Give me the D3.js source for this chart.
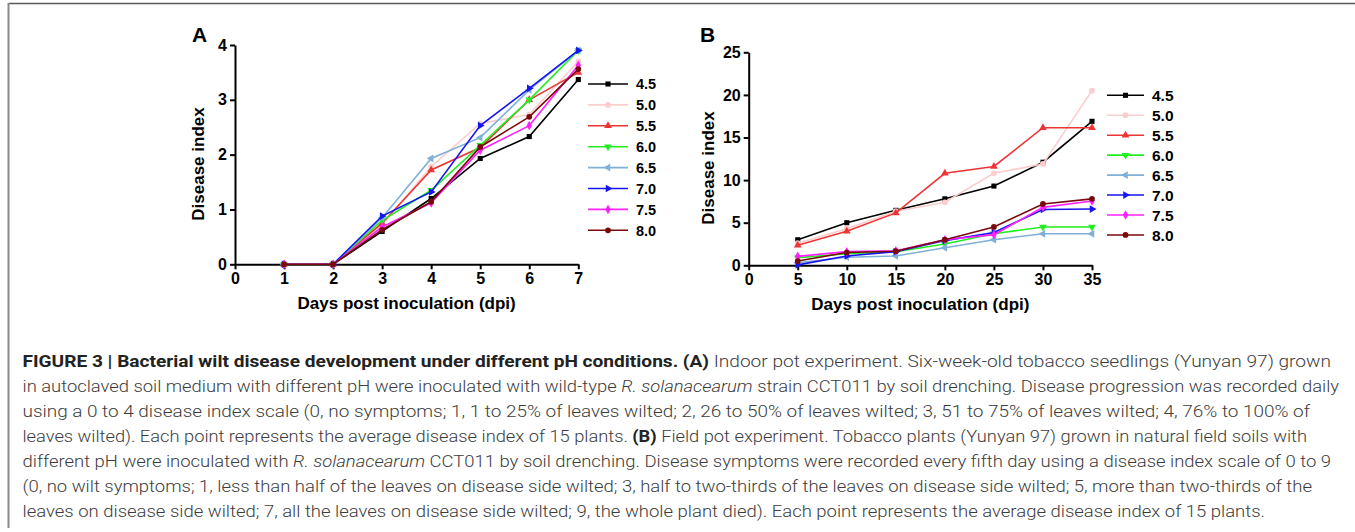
<!DOCTYPE html>
<html>
<head>
<meta charset="utf-8">
<script src="https://cdn.jsdelivr.net/npm/d3@7"></script>
<style>
  body { margin: 0; background: #fff; }
  svg text { font-family: "Liberation Sans", Arial, sans-serif; }
  .cap { font-family: Roboto, "Liberation Sans", sans-serif; font-weight: 300; fill: #3c3c3c; font-size: 16px; }
</style>
</head>
<body>
<div id="fig"></div>
<script>
// data
var phLabels = ["4.5", "5.0", "5.5", "6.0", "6.5", "7.0", "7.5", "8.0"];
var phColors = ["#000000", "#fbcdcd", "#ee3535", "#22ee22", "#7fb0d8", "#1515f0", "#ff22ff", "#7a0a0a"];
var phSymbols = [d3.symbolSquare, d3.symbolCircle, d3.symbolTriangle, "down", "left", "right", d3.symbolDiamond, d3.symbolCircle];

// panel A: indoor pot, days 1..7
var daysA = [1, 2, 3, 4, 5, 6, 7];
var indoor45 = [0, 0, 0.60, 1.20, 1.93, 2.33, 3.37];
var indoor50 = [0, 0, 0.72, 1.78, 2.57, 2.73, 3.70];
var indoor55 = [0, 0, 0.75, 1.72, 2.13, 3.00, 3.50];
var indoor60 = [0, 0, 0.80, 1.35, 2.17, 3.00, 3.90];
var indoor65 = [0, 0, 0.85, 1.93, 2.31, 3.18, 3.90];
var indoor70 = [0, 0, 0.88, 1.32, 2.53, 3.21, 3.90];
var indoor75 = [0, 0, 0.68, 1.12, 2.08, 2.53, 3.63];
var indoor80 = [0, 0, 0.63, 1.14, 2.14, 2.69, 3.56];
var indoorSeries = [indoor45, indoor50, indoor55, indoor60, indoor65, indoor70, indoor75, indoor80];

// panel B: field pot, every fifth day
var daysB = [5, 10, 15, 20, 25, 30, 35];
var field45 = [3.00, 5.00, 6.45, 7.80, 9.30, 12.10, 16.90];
var field50 = [2.60, 4.30, 6.35, 7.40, 10.80, 11.90, 20.50];
var field55 = [2.35, 4.00, 6.15, 10.80, 11.60, 16.15, 16.15];
var field60 = [0.90, 1.35, 1.60, 2.50, 3.70, 4.50, 4.50];
var field65 = [0.30, 0.95, 1.10, 2.05, 3.00, 3.70, 3.70];
var field70 = [0.05, 1.10, 1.60, 2.90, 3.85, 6.55, 6.60];
var field75 = [1.05, 1.60, 1.70, 3.00, 3.60, 6.80, 7.55];
var field80 = [0.50, 1.50, 1.65, 3.00, 4.50, 7.20, 7.80];
var fieldSeries = [field45, field50, field55, field60, field65, field70, field75, field80];

var ticksA_x = [0, 1, 2, 3, 4, 5, 6, 7];
var ticksA_y = [0, 1, 2, 3, 4];
var ticksB_x = [0, 5, 10, 15, 20, 25, 30, 35];
var ticksB_y = [0, 5, 10, 15, 20, 25];

var W = 1355, H = 532;
var svg = d3.select("#fig").append("svg").attr("width", W).attr("height", H);

// frame (top and left rules)
svg.append("line").attr("x1", 8.5).attr("x2", W).attr("y1", 3.5).attr("y2", 3.5)
   .attr("stroke", "#5a5a5a").attr("stroke-width", 1.5);
svg.append("line").attr("x1", 8.5).attr("x2", 8.5).attr("y1", 3).attr("y2", 528)
   .attr("stroke", "#8a8a8a").attr("stroke-width", 2);

// marker path for a series index
function marker_path(i, size) {
    var s = phSymbols[i];
    if (typeof s !== "string") return d3.symbol().type(s).size(size)();
    return d3.symbol().type(d3.symbolTriangle).size(size)();
}
function marker_rot(i) {
    var s = phSymbols[i];
    if (s === "down") return 180;
    if (s === "left") return -90;
    if (s === "right") return 90;
    return 0;
}

function draw_panel(opt) {
    var x = d3.scaleLinear().domain(opt.xDomain).range(opt.xRange);
    var y = d3.scaleLinear().domain(opt.yDomain).range(opt.yRange);
    var g = svg.append("g");
    var fmt = d3.format("d");

    var xAxis = g.append("g").attr("transform", "translate(0," + opt.yRange[0] + ")")
        .call(d3.axisBottom(x).tickValues(opt.xTicks).tickFormat(fmt).tickSize(5).tickSizeOuter(0).tickPadding(3));
    var yAxis = g.append("g").attr("transform", "translate(" + opt.xRange[0] + ",0)")
        .call(d3.axisLeft(y).tickValues(opt.yTicks).tickFormat(fmt).tickSize(5).tickSizeOuter(0).tickPadding(3));
    [xAxis, yAxis].forEach(function (a) {
        a.select(".domain").attr("stroke", "#000").attr("stroke-width", 2);
        a.selectAll(".tick line").attr("stroke", "#000").attr("stroke-width", 2);
        a.selectAll(".tick text").attr("fill", "#000")
            .style("font-size", "16px").style("font-weight", "bold");
    });

    // axis titles
    g.append("text").attr("x", (opt.xRange[0] + opt.xRange[1]) / 2).attr("y", opt.yRange[0] + 45)
        .attr("text-anchor", "middle").style("font-size", "17px").style("font-weight", "bold")
        .text("Days post inoculation (dpi)");
    g.append("text").attr("transform", "translate(" + opt.yTitleX + "," + opt.yTitleY + ") rotate(-90)")
        .attr("text-anchor", "middle").attr("dy", "0.35em")
        .style("font-size", "17px").style("font-weight", "bold")
        .text("Disease index");
    g.append("text").attr("x", opt.letterX).attr("y", 42)
        .style("font-size", "21px").style("font-weight", "bold").text(opt.letter);

    var line = d3.line().x(function (d) { return x(d[0]); }).y(function (d) { return y(d[1]); });
    opt.series.forEach(function (vals, i) {
        var pts = opt.days.map(function (d, k) { return [d, vals[k]]; });
        g.append("path").datum(pts).attr("d", line).attr("fill", "none")
            .attr("stroke", phColors[i]).attr("stroke-width", 1.6);
        g.selectAll(null).data(pts).enter().append("path")
            .attr("d", marker_path(i, 26))
            .attr("transform", function (d) { return "translate(" + x(d[0]) + "," + y(d[1]) + ") rotate(" + marker_rot(i) + ")"; })
            .attr("fill", phColors[i]);
    });

    // legend
    var lg = g.append("g");
    phLabels.forEach(function (lab, i) {
        var ly = opt.legY + i * opt.legStep;
        lg.append("line").attr("x1", opt.legX).attr("x2", opt.legX + opt.legLen).attr("y1", ly).attr("y2", ly)
            .attr("stroke", phColors[i]).attr("stroke-width", 1.6);
        lg.append("path").attr("d", marker_path(i, 26))
            .attr("transform", "translate(" + (opt.legX + opt.legLen / 2) + "," + ly + ") rotate(" + marker_rot(i) + ")")
            .attr("fill", phColors[i]);
        lg.append("text").attr("x", opt.legX + opt.legLen + 8).attr("y", ly).attr("dy", "0.36em")
            .style("font-size", opt.legFont).style("font-weight", "bold").text(lab);
    });
}

draw_panel({
    letter: "A", letterX: 192,
    xDomain: [0, 7], xRange: [235, 578.3], yDomain: [0, 4], yRange: [264.3, 45],
    xTicks: ticksA_x, yTicks: ticksA_y, days: daysA, series: indoorSeries,
    yTitleX: 198, yTitleY: 164,
    legX: 588, legLen: 40, legY: 84, legStep: 20.9, legFont: "14.5px"
});
draw_panel({
    letter: "B", letterX: 700,
    xDomain: [0, 35], xRange: [748.7, 1092], yDomain: [0, 25], yRange: [265.3, 52.3],
    xTicks: ticksB_x, yTicks: ticksB_y, days: daysB, series: fieldSeries,
    yTitleX: 708, yTitleY: 168,
    legX: 1107, legLen: 37, legY: 95.3, legStep: 19.95, legFont: "15.5px"
});

// caption: each line is a list of [text, style] runs
var captionLines = [
    [["FIGURE 3 | Bacterial wilt disease development under different pH conditions.", "b"], [" ", ""], ["(A)", "b"], [" Indoor pot experiment. Six-week-old tobacco seedlings (Yunyan 97) grown", ""]],
    [["in autoclaved soil medium with different pH were inoculated with wild-type ", ""], ["R. solanacearum", "i"], [" strain CCT011 by soil drenching. Disease progression was recorded daily", ""]],
    [["using a 0 to 4 disease index scale (0, no symptoms; 1, 1 to 25% of leaves wilted; 2, 26 to 50% of leaves wilted; 3, 51 to 75% of leaves wilted; 4, 76% to 100% of", ""]],
    [["leaves wilted). Each point represents the average disease index of 15 plants. ", ""], ["(B)", "b"], [" Field pot experiment. Tobacco plants (Yunyan 97) grown in natural field soils with", ""]],
    [["different pH were inoculated with ", ""], ["R. solanacearum", "i"], [" CCT011 by soil drenching. Disease symptoms were recorded every fifth day using a disease index scale of 0 to 9", ""]],
    [["(0, no wilt symptoms; 1, less than half of the leaves on disease side wilted; 3, half to two-thirds of the leaves on disease side wilted; 5, more than two-thirds of the", ""]],
    [["leaves on disease side wilted; 7, all the leaves on disease side wilted; 9, the whole plant died). Each point represents the average disease index of 15 plants.", ""]]
];
var captionEnds = [1331, 1339, 1310, 1307, 1331, 1312, 1265];
var capX = 22.5, capY0 = 367, capStep = 25;

captionLines.forEach(function (runs, li) {
    var t = svg.append("text").attr("class", "cap")
        .attr("x", capX).attr("y", capY0 + li * capStep)
        .attr("textLength", captionEnds[li] - capX).attr("lengthAdjust", "spacingAndGlyphs")
        .attr("xml:space", "preserve").style("white-space", "pre");
    runs.forEach(function (r) {
        var ts = t.append("tspan").text(r[0]);
        if (r[1] === "b") ts.style("font-weight", "bold").style("fill", "#222");
        if (r[1] === "i") ts.style("font-style", "italic");
    });
});
</script>
</body>
</html>
